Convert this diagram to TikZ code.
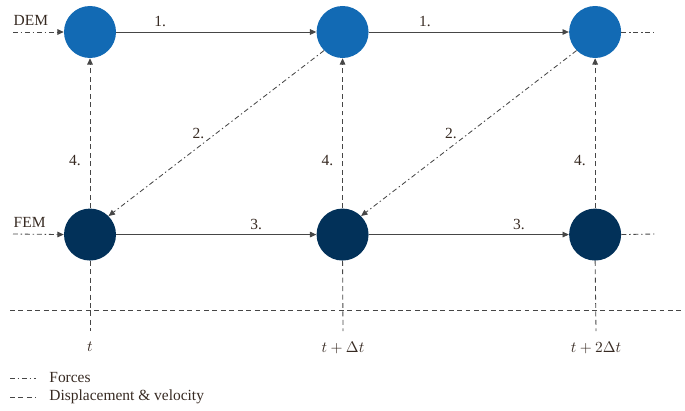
\documentclass[tikz,border=0pt]{standalone}
\usepackage{fontspec}
\setmainfont{Liberation Serif}
\usepackage{xcolor}
\usepackage{tikz}
\usetikzlibrary{positioning, calc, arrows.meta}

\definecolor{demblue}{RGB}{18,106,180}
\definecolor{femnavy}{RGB}{2,49,89}
\definecolor{linegray}{RGB}{70,70,70}
\definecolor{txtbrown}{RGB}{55,42,34}

\begin{document}
\begin{tikzpicture}[
        % Style for the particle (DEM) and element (FEM) states
        dem/.style={
            circle,
            fill=demblue,
            minimum size=1.3cm,
            inner sep=0pt
        },
        fem/.style={
            circle,
            fill=femnavy,
            minimum size=1.3cm,
            inner sep=0pt
        },
        lbl/.style={text=txtbrown, font=\fontsize{11}{13}\selectfont},
        solidarrow/.style={draw=linegray, line width=0.6pt, -{Triangle[length=4.5pt,width=4pt]}},
        forces/.style={draw=linegray, line width=0.6pt,
            dash pattern=on 3.5pt off 2pt on 1pt off 2pt},
        dispvel/.style={draw=linegray, line width=0.6pt,
            dash pattern=on 3.5pt off 2.5pt},
        >={Triangle[length=4.5pt,width=4pt]},
        node distance=5cm
    ]

    \useasboundingbox (0,0) rectangle (17.125,-10.25);

    % ==========================================
    % DEM ROW
    % ==========================================
    \node[dem] at (2.25,-0.8) (D1) {};
    \node[dem, right=of D1] (D2) {};
    \node[dem, right=of D2] (D3) {};

    % ==========================================
    % FEM ROW
    % ==========================================
    \node[fem, below=3.75cm of D1] (F1) {};
    \node[fem, below=3.75cm of D2] (F2) {};
    \node[fem, below=3.75cm of D3] (F3) {};

    % Incoming and outgoing force lines
    \coordinate (demin) at (0.325,-0.8);
    \coordinate (femin) at (0.325,-5.85);
    \coordinate (demout) at (16.375,-0.8);
    \coordinate (femout) at (16.375,-5.85);
    \draw[forces, ->] (demin) -- (D1.west);
    \draw[forces, ->] (femin) -- (F1.west);
    \draw[forces] (D3.east) -- (demout);
    \draw[forces] (F3.east) -- (femout);
    \node[lbl, above right=1pt and -3pt of demin] (demlabel) {DEM};
    \node[lbl, above right=1pt and -3pt of femin] (femlabel) {FEM};

    % Step 1: DEM update
    \draw[solidarrow] (D1.east) -- node[lbl, above, pos=0.22] (s1a) {1.} (D2.west);
    \draw[solidarrow] (D2.east) -- node[lbl, above, pos=0.28] (s1b) {1.} (D3.west);

    % Step 2: forces passed to FEM
    \draw[forces, ->] (D2.south west) -- node[lbl, left=5pt, pos=0.5] (s2a) {2.} (F1.north east);
    \draw[forces, ->] (D3.south west) -- node[lbl, left=5pt, pos=0.5] (s2b) {2.} (F2.north east);

    % Step 3: FEM update
    \draw[solidarrow] (F1.east) -- node[lbl, above, pos=0.7] (s3a) {3.} (F2.west);
    \draw[solidarrow] (F2.east) -- node[lbl, above, pos=0.75] (s3b) {3.} (F3.west);

    % Step 4: displacement & velocity back to DEM
    \draw[dispvel, ->] (F1.north) -- node[lbl, left=3pt, pos=0.32] (s4a) {4.} (D1.south);
    \draw[dispvel, ->] (F2.north) -- node[lbl, left=3pt, pos=0.32] (s4b) {4.} (D2.south);
    \draw[dispvel, ->] (F3.north) -- node[lbl, left=3pt, pos=0.32] (s4c) {4.} (D3.south);

    % ==========================================
    % TIME AXIS
    % ==========================================
    \coordinate (axl) at (0.25,-7.75);
    \coordinate (axr) at (17.125,-7.75);
    \draw[dispvel] (axl) -- (axr);

    \coordinate (T1) at (2.25,-8.275);
    \coordinate (T2) at (8.575,-8.275);
    \coordinate (T3) at (14.9,-8.275);
    \draw[dispvel] (F1.south) -- (T1);
    \draw[dispvel] (F2.south) -- (T2);
    \draw[dispvel] (F3.south) -- (T3);

    \node[lbl, below=4pt of T1] (t1) {$t$};
    \node[lbl, below=4pt of T2] (t2) {$t + \Delta t$};
    \node[lbl, below=4pt of T3] (t3) {$t + 2\Delta t$};

    % ==========================================
    % LEGEND
    % ==========================================
    \coordinate (lf1) at (0.25,-9.45);
    \coordinate (lf2) at (0.9,-9.45);
    \coordinate (ld1) at (0.25,-9.925);
    \coordinate (ld2) at (0.9,-9.925);
    \draw[forces] (lf1) -- (lf2);
    \draw[dispvel] (ld1) -- (ld2);
    \node[lbl, right=6pt of lf2] (legforces) {Forces};
    \node[lbl, right=6pt of ld2] (legdisp) {Displacement \& velocity};

\end{tikzpicture}
\end{document}
